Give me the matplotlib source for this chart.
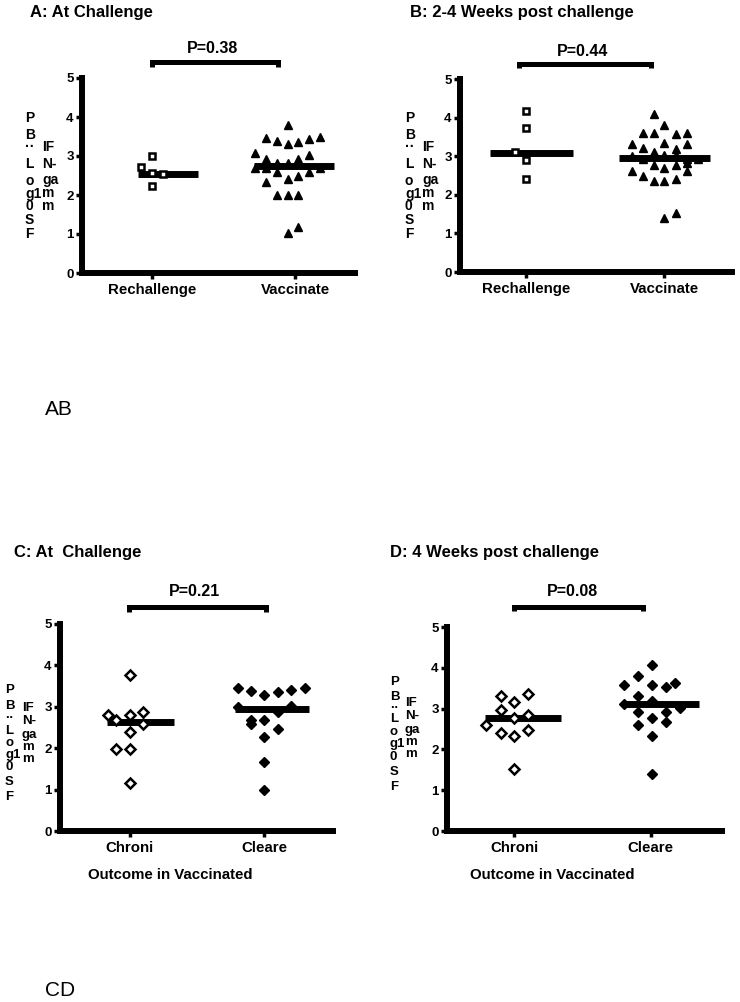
import matplotlib
matplotlib.use("Agg")
import matplotlib.pyplot as plt

plt.rcParams['font.family'] = ['Liberation Sans', 'DejaVu Sans']

W, H = 740, 1002

#%% data
# A: At Challenge
a_rech_x = [0.92, 1.0, 1.0, 1.075, 1.0]
a_rech_y = [2.73, 3.01, 2.56, 2.54, 2.24]
a_vacc_x = [1.95,
            1.80, 1.873, 1.95, 2.023, 2.10, 2.177,
            1.72, 1.80, 2.10, 2.023,
            1.72, 1.80, 1.873, 1.95, 2.177,
            1.873, 2.10, 1.95, 2.023,
            1.80,
            1.873, 1.95, 2.023,
            1.95, 2.023]
a_vacc_y = [3.79,
            3.45, 3.38, 3.30, 3.37, 3.43, 3.50,
            3.07, 2.92, 3.03, 2.92,
            2.68, 2.68, 2.81, 2.81, 2.68,
            2.60, 2.60, 2.40, 2.49,
            2.34,
            2.0, 2.0, 2.0,
            1.02, 1.19]
a_medians = [2.54, 2.74]
a_p = "P=0.38"

# B: 2-4 Weeks post challenge
b_rech_x = [1.0, 1.0, 0.92, 1.0, 1.0]
b_rech_y = [4.17, 3.72, 3.12, 2.90, 2.40]
b_vacc_x = [1.926,
            2.0,
            1.844, 1.926, 2.086, 2.165,
            2.0,
            1.763, 1.844, 2.086, 2.165,
            1.926,
            1.763, 1.844, 2.0, 2.086, 2.165, 2.247,
            1.926, 2.0, 2.086, 2.165,
            1.763, 1.844, 1.926, 2.0, 2.086, 2.165,
            2.0, 2.086]
b_vacc_y = [4.09,
            3.81,
            3.61, 3.59, 3.57, 3.59,
            3.35,
            3.31, 3.22, 3.18, 3.31,
            3.12,
            3.0, 2.92, 3.02, 3.02, 2.92, 2.92,
            2.77, 2.70, 2.77, 2.83,
            2.62, 2.49, 2.37, 2.37, 2.41, 2.62,
            1.39, 1.52]
b_medians = [3.09, 2.95]
b_p = "P=0.44"

# C: At Challenge
c_chr_x = [1.0, 0.84, 0.896, 1.0, 1.099, 1.099, 1.0, 0.896, 1.0, 1.0]
c_chr_y = [3.77, 2.79, 2.67, 2.79, 2.87, 2.59, 2.38, 1.98, 1.98, 1.17]
c_clr_x = [1.80, 1.90, 2.0, 2.10, 2.20, 2.30, 1.80, 2.20, 2.10, 1.90, 2.0, 1.90,
           2.10, 2.0, 2.0, 2.0]
c_clr_y = [3.45, 3.38, 3.29, 3.35, 3.41, 3.46, 3.0, 3.03, 2.88, 2.68, 2.68, 2.58,
           2.46, 2.26, 1.67, 0.99]
c_medians = [2.64, 2.95]
c_p = "P=0.21"

# D: 4 Weeks post challenge
d_chr_x = [0.903, 1.0, 1.105, 0.903, 1.105, 1.0, 0.796, 0.903, 1.0, 1.105, 1.0]
d_chr_y = [3.32, 3.16, 3.35, 2.96, 2.85, 2.77, 2.60, 2.40, 2.34, 2.48, 1.51]
d_clr_x = [2.005, 1.903, 1.805, 2.005, 2.109, 2.175, 1.903, 2.005, 1.805, 2.212,
           1.903, 2.109, 2.005, 2.109, 1.903, 2.005, 2.005]
d_clr_y = [4.08, 3.79, 3.57, 3.58, 3.53, 3.62, 3.31, 3.19, 3.11, 3.01,
           2.91, 2.91, 2.77, 2.68, 2.59, 2.34, 1.39]
d_medians = [2.77, 3.11]
d_p = "P=0.08"

cats_ab = ["Rechallenge", "Vaccinate"]
cats_cd = ["Chroni", "Cleare"]
ylab1 = ["P", "B", "··", "L", "o", "g1", "0", "S", "F"]
ylab2 = ["IF", "N-", "ga", "m", "m"]

#%% figure
fig = plt.figure(figsize=(W / 100, H / 100), dpi=100)


def px_axes(left, right, top, bottom):
    return fig.add_axes([left / W, 1 - bottom / H, (right - left) / W, (bottom - top) / H])


def ftext(x, y, s, **kw):
    fig.text(x / W, 1 - y / H, s, **kw)


def setup(ax, xlim, cats):
    ax.set_xlim(xlim)
    ax.set_ylim(0, 5)
    for s in ['top', 'right']:
        ax.spines[s].set_visible(False)
    for s in ['left', 'bottom']:
        ax.spines[s].set_linewidth(4.3)
    ax.set_xticks([1, 2])
    ax.set_xticklabels(cats, fontweight='bold', fontsize=10.8)
    ax.set_yticks(range(6))
    ax.set_yticklabels([str(i) for i in range(6)], fontweight='bold', fontsize=9.5)
    ax.tick_params(axis='y', direction='out', length=4, width=2.5, pad=2)
    ax.tick_params(axis='x', direction='out', length=4, width=2.5, pad=3)


def bracket(ax, x1, x2, yb, ytxt, xtxt, txt):
    ax.plot([x1, x1, x2, x2], [yb - 0.12, yb, yb, yb - 0.12], color='black',
            lw=3.6, clip_on=False, solid_capstyle='butt', solid_joinstyle='miter')
    ax.text(xtxt, ytxt, txt, ha='center', va='center', fontweight='bold', fontsize=11.5)


def ylabel(x1, ys1, x2, ys2, fs):
    for s, y in zip(ylab1, ys1):
        ftext(x1, y, s, ha='left', va='center', fontweight='bold', fontsize=fs)
    for s, y in zip(ylab2, ys2):
        ftext(x2, y, s, ha='left', va='center', fontweight='bold', fontsize=fs)


open_sq = dict(marker='s', ls='none', mfc='white', mec='black', ms=5, mew=1.8, zorder=3)
tri = dict(marker='^', ls='none', color='black', ms=5.5, zorder=3)
open_dm = dict(marker='D', ls='none', mfc='white', mec='black', ms=5.2, mew=1.8, zorder=3)
fill_dm = dict(marker='D', ls='none', color='black', ms=5.5, zorder=3)

# panel A
ax = px_axes(82, 355, 78, 273)
setup(ax, (0.51, 2.42), cats_ab)
ax.hlines(a_medians[0], 0.90, 1.32, color='black', lw=5, zorder=2)
ax.hlines(a_medians[1], 1.71, 2.27, color='black', lw=5, zorder=2)
ax.plot(a_rech_x, a_rech_y, **open_sq)
ax.plot(a_vacc_x, a_vacc_y, **tri)
bracket(ax, 1.0, 1.88, 5.41, 5.76, 1.42, a_p)
ftext(30, 12, "A: At Challenge", fontweight='bold', fontsize=12, va='center')
ylabel(25, [118, 135, 147, 164, 181, 194, 206, 220, 234],
       42, [147, 164, 180, 193, 206], 10)

# panel B
ax = px_axes(460, 732, 79, 272)
setup(ax, (0.52, 2.49), cats_ab)
ax.hlines(b_medians[0], 0.74, 1.34, color='black', lw=5, zorder=2)
ax.hlines(b_medians[1], 1.67, 2.33, color='black', lw=5, zorder=2)
ax.plot(b_rech_x, b_rech_y, **open_sq)
ax.plot(b_vacc_x, b_vacc_y, **tri)
bracket(ax, 0.95, 1.90, 5.4, 5.71, 1.41, b_p)
ftext(410, 12, "B: 2-4 Weeks post challenge", fontweight='bold', fontsize=12, va='center')
ylabel(405, [118, 135, 147, 164, 181, 194, 206, 220, 234],
       422, [147, 164, 180, 193, 206], 10)

ftext(45, 410, "AB", fontsize=15, va='center')

# panel C
ax = px_axes(60, 333, 624, 831)
setup(ax, (0.48, 2.51), cats_cd)
ax.hlines(c_medians[0], 0.83, 1.33, color='black', lw=5, zorder=2)
ax.hlines(c_medians[1], 1.78, 2.33, color='black', lw=5, zorder=2)
ax.plot(c_chr_x, c_chr_y, **open_dm)
ax.plot(c_clr_x, c_clr_y, **fill_dm)
bracket(ax, 0.99, 2.01, 5.42, 5.78, 1.48, c_p)
ftext(14, 553, "C: At  Challenge", fontweight='bold', fontsize=12, va='center')
ftext(170, 875, "Outcome in Vaccinated", fontweight='bold', fontsize=10.8, ha='center', va='center')
ylabel(5, [690, 706, 718, 731, 743, 755, 767, 782, 797],
       22, [708, 721, 735, 747, 759], 9.5)

# panel D
ax = px_axes(447, 722, 627, 831)
setup(ax, (0.51, 2.52), cats_cd)
ax.hlines(d_medians[0], 0.79, 1.34, color='black', lw=5, zorder=2)
ax.hlines(d_medians[1], 1.79, 2.35, color='black', lw=5, zorder=2)
ax.plot(d_chr_x, d_chr_y, **open_dm)
ax.plot(d_clr_x, d_clr_y, **fill_dm)
bracket(ax, 1.0, 1.94, 5.5, 5.87, 1.43, d_p)
ftext(390, 553, "D: 4 Weeks post challenge", fontweight='bold', fontsize=12, va='center')
ftext(552, 875, "Outcome in Vaccinated", fontweight='bold', fontsize=10.8, ha='center', va='center')
ylabel(390, [682, 697, 708, 719, 732, 744, 757, 772, 787],
       405, [703, 716, 730, 742, 754], 9.5)

ftext(45, 990, "CD", fontsize=15, va='center')

fig.savefig("out.png", dpi=100)
